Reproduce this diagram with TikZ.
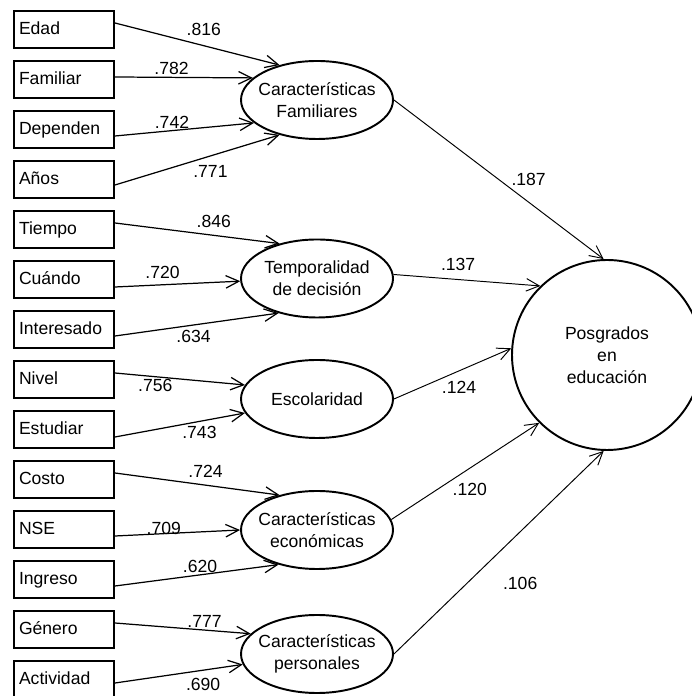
\documentclass[tikz,border=0pt]{standalone}
\usepackage{fontspec}
\setmainfont{Liberation Sans}
\usetikzlibrary{shapes,arrows.meta}

\begin{document}
\begin{tikzpicture}[
			font=\fontsize{10}{12.5}\selectfont,
			obs/.style={draw, line width=1.1pt, minimum width=2cm, minimum height=0.74cm, inner xsep=0.1cm, text width=1.8cm, align=left, text height=0.72em, text depth=0.2em},
			lat/.style={draw, line width=1.1pt, ellipse, minimum width=3.04cm, minimum height=1.56cm, inner xsep=-0.4cm, inner ysep=0pt, align=center},
			ld/.style={line width=0.7pt, -{Straight Barb[length=2.6mm,width=2.5mm]}},
			reg/.style={line width=0.55pt, -{Straight Barb[length=2.6mm,width=2.5mm]}},
			coef/.style={inner sep=1pt}
		]
			\useasboundingbox (0,0) rectangle (13.84,13.92);
			\clip (0,0) rectangle (13.84,13.92);
			% indicators
			\node[obs] (edad) at (1.28,13.33) {Edad};
			\node[obs] (familiar) at (1.28,12.33) {Familiar};
			\node[obs] (dependen) at (1.28,11.33) {Dependen};
			\node[obs] (anos) at (1.28,10.33) {Años};
			\node[obs] (tiempo) at (1.28,9.33) {Tiempo};
			\node[obs] (cuando) at (1.28,8.33) {Cuándo};
			\node[obs] (interesado) at (1.28,7.33) {Interesado};
			\node[obs] (nivel) at (1.28,6.33) {Nivel};
			\node[obs] (estudiar) at (1.28,5.33) {Estudiar};
			\node[obs] (costo) at (1.28,4.33) {Costo};
			\node[obs] (nse) at (1.28,3.33) {NSE};
			\node[obs] (ingreso) at (1.28,2.33) {Ingreso};
			\node[obs] (genero) at (1.28,1.33) {Género};
			\node[obs] (actividad) at (1.28,0.33) {Actividad};
			% factors
			\node[lat] (fam) at (6.34,11.92) {Características\\Familiares};
			\node[lat] (temp) at (6.34,8.35) {Temporalidad\\de decisión};
			\node[lat] (esc) at (6.34,5.94) {Escolaridad};
			\node[lat] (econ) at (6.34,3.32) {Características\\económicas};
			\node[lat] (pers) at (6.34,0.84) {Características\\personales};
			\node[draw, line width=1.1pt, circle, minimum size=3.8cm, align=center] (posg) at (12.14,6.82) {Posgrados\\en\\educación};
			% Caracteristicas Familiares
			\draw[ld] ([yshift=0.13cm]edad.east) -- node[coef, pos=0.54, above=0.15cm] {.816} (fam.137);
			\draw[ld] ([yshift=0.05cm]familiar.east) -- node[coef, pos=0.41, above] {.782} (fam.161);
			\draw[ld] ([yshift=-0.13cm]dependen.east) -- node[coef, pos=0.41, above] {.742} (fam.200);
			\draw[ld] ([yshift=-0.11cm]anos.east) -- node[coef, pos=0.58, below=0.14cm] {.771} (fam.223);
			% Temporalidad
			\draw[ld] ([yshift=0.13cm]tiempo.east) -- node[coef, pos=0.6, above=0.1cm] {.846} (temp.137);
			\draw[ld] ([yshift=-0.15cm]cuando.east) -- node[coef, pos=0.38, above=0.08cm] {.720} (temp.182);
			\draw[ld] ([yshift=-0.13cm]interesado.east) -- node[coef, pos=0.48, below=0.05cm] {.634} (temp.222);
			% Escolaridad
			\draw[ld] ([yshift=0.13cm]nivel.east) -- node[coef, pos=0.31, below] {.756} (esc.169);
			\draw[ld] ([yshift=-0.15cm]estudiar.east) -- node[coef, pos=0.65, below=0.05cm] {.743} (esc.191);
			% economicas
			\draw[ld] ([yshift=0.13cm]costo.east) -- node[coef, pos=0.55, above=0.1cm] {.724} (econ.137);
			\draw[ld] ([yshift=-0.13cm]nse.east) -- node[coef, pos=0.39, above=-0.07cm] {.709} (econ.180);
			\draw[ld] ([yshift=-0.13cm]ingreso.east) -- node[coef, pos=0.52, above] {.620} (econ.222);
			% personales
			\draw[ld] ([yshift=0.13cm]genero.east) -- node[coef, pos=0.66, above] {.777} (pers.163);
			\draw[ld] ([yshift=-0.07cm]actividad.east) -- node[coef, pos=0.69, below=0.11cm] {.690} (pers.188);
			% paths to Posgrados
			\draw[reg] (fam.east) -- node[coef, pos=0.55, above right] {.187} (posg.92);
			\draw[reg] (temp.3) -- node[coef, pos=0.44, above=0.14cm] {.137} (posg.134);
			\draw[reg] (esc.east) -- node[coef, pos=0.39, below right] {.124} (posg.176);
			\draw[reg] (econ.8) -- node[coef, pos=0.4, below right] {.120} (posg.225);
			\draw[reg] (pers.east) -- node[coef, pos=0.45, below right=0.25cm] {.106} (posg.268);
		\end{tikzpicture}
\end{document}
